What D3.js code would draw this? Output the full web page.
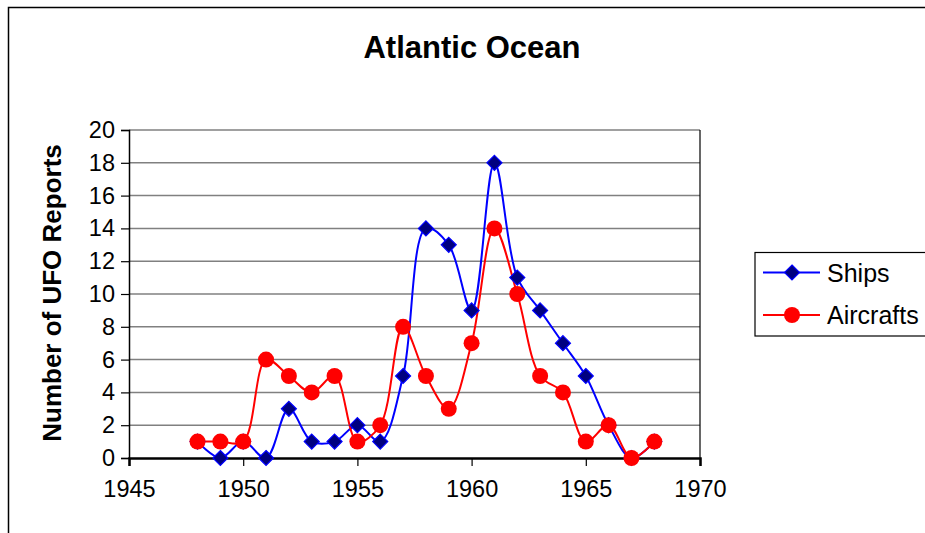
<!DOCTYPE html>
<html><head><meta charset="utf-8">
<script src="https://cdn.jsdelivr.net/npm/d3@7"></script>
<style>body{margin:0;background:#fff}svg{display:block}text{font-family:"Liberation Sans",Arial,sans-serif}</style>
</head><body>
<script>
const years = [1948,1949,1950,1951,1952,1953,1954,1955,1956,1957,1958,1959,1960,1961,1962,1963,1964,1965,1966,1967,1968];
const ships = [1,0,1,0,3,1,1,2,1,5,14,13,9,18,11,9,7,5,2,0,1];
const aircrafts = [1,1,1,6,5,4,5,1,2,8,5,3,7,14,10,5,4,1,2,0,1];
const xTicks = [1945,1950,1955,1960,1965,1970];
const yTicks = [0,2,4,6,8,10,12,14,16,18,20];
const title = "Atlantic Ocean";
const yLabel = "Number of UFO Reports";
const seriesNames = ["Ships","Aircrafts"];

const W=925,H=533;
const svg=d3.select("body").append("svg").attr("width",W).attr("height",H);
svg.append("rect").attr("x",8.5).attr("y",7.5).attr("width",930).attr("height",540).attr("fill","#fff").attr("stroke","#000").attr("stroke-width",1.5);

const L=129,R=700,T=130,B=458;
const x=d3.scaleLinear().domain([1945,1970]).range([L,R]);
const y=d3.scaleLinear().domain([0,20]).range([B,T]);

svg.append("g").selectAll("line").data(yTicks.filter(d=>d>0)).join("line")
 .attr("x1",L).attr("x2",R).attr("y1",d=>y(d)).attr("y2",d=>y(d))
 .attr("stroke","#808080").attr("stroke-width",1.5);
svg.append("line").attr("x1",R).attr("x2",R).attr("y1",T).attr("y2",B).attr("stroke","#000").attr("stroke-width",1.2);

const yAxis=d3.axisLeft(y).tickValues(yTicks).tickSize(8).tickPadding(6);
const gy=svg.append("g").attr("transform",`translate(${L},0)`).call(yAxis);
const xAxis=d3.axisBottom(x).tickValues(xTicks).tickFormat(d3.format("d")).tickSize(8).tickPadding(14);
const gx=svg.append("g").attr("transform",`translate(0,${B})`).call(xAxis);
[gy,gx].forEach(g=>{g.select(".domain").attr("stroke","#000").attr("stroke-width",1.5);
 g.selectAll(".tick line").attr("stroke","#000").attr("stroke-width",1.2);
 g.selectAll("text").attr("font-size",23.5).attr("fill","#000").attr("font-family","Liberation Sans, Arial, sans-serif");});
gx.select(".domain").attr("stroke-width",2.5);

const line=(vals)=>d3.line().x((d,i)=>x(years[i])).y(d=>y(d)).curve(d3.curveCatmullRom.alpha(0.5))(vals);
svg.append("path").attr("d",line(ships)).attr("fill","none").attr("stroke","#0000ff").attr("stroke-width",2);
svg.append("path").attr("d",line(aircrafts)).attr("fill","none").attr("stroke","#ff0000").attr("stroke-width",2);

const diamond=(cx,cy,s)=>`M${cx},${cy-s}L${cx+s},${cy}L${cx},${cy+s}L${cx-s},${cy}Z`;
svg.append("g").selectAll("path").data(ships).join("path")
 .attr("d",(d,i)=>diamond(x(years[i]),y(d),7.5)).attr("fill","#000080").attr("stroke","#0000ff").attr("stroke-width",1.2);
svg.append("g").selectAll("circle").data(aircrafts).join("circle")
 .attr("cx",(d,i)=>x(years[i])).attr("cy",d=>y(d)).attr("r",8).attr("fill","#ff0000");

svg.append("text").attr("x",472).attr("y",58).attr("text-anchor","middle").attr("font-size",31).attr("font-weight","bold").text(title);
svg.append("text").attr("transform","translate(61,293) rotate(-90)").attr("text-anchor","middle").attr("font-size",26).attr("font-weight","bold").text(yLabel);

const lg=svg.append("g");
lg.append("rect").attr("x",755).attr("y",252.5).attr("width",200).attr("height",83.5).attr("fill","#fff").attr("stroke","#000").attr("stroke-width",1.2);
const ly=[272.5,315];
lg.append("line").attr("x1",763).attr("x2",820).attr("y1",ly[0]).attr("y2",ly[0]).attr("stroke","#0000ff").attr("stroke-width",2);
lg.append("path").attr("d",diamond(792,ly[0],7.5)).attr("fill","#000080").attr("stroke","#0000ff").attr("stroke-width",1.2);
lg.append("line").attr("x1",763).attr("x2",820).attr("y1",ly[1]).attr("y2",ly[1]).attr("stroke","#ff0000").attr("stroke-width",2);
lg.append("circle").attr("cx",792).attr("cy",ly[1]).attr("r",8).attr("fill","#ff0000");
lg.selectAll("text.l").data(seriesNames).join("text").attr("x",827).attr("y",(d,i)=>ly[i]+9).attr("font-size",25).text(d=>d);
</script>
</body></html>
